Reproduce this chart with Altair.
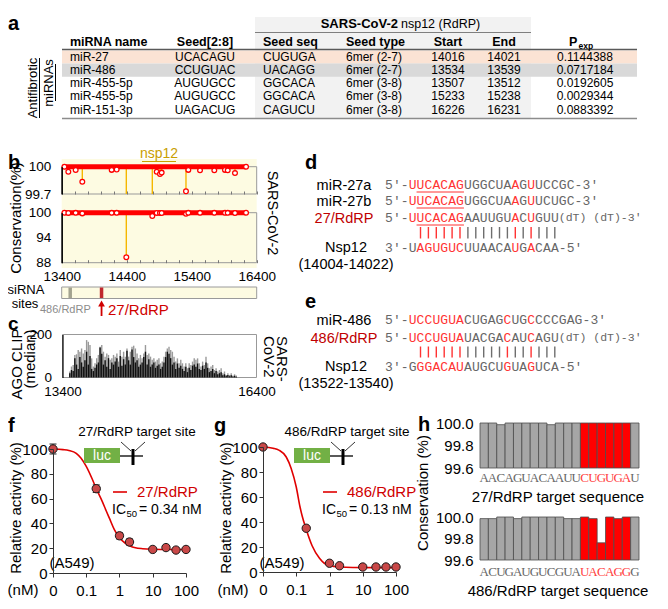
import altair as alt
import pandas as pd

# ---------------- data ----------------
# panel a (table)
mirna_name = ["miR-27", "miR-486", "miR-455-5p", "miR-455-5p", "miR-151-3p"]
seed_2_8 = ["UCACAGU", "CCUGUAC", "AUGUGCC", "AUGUGCC", "UAGACUG"]
seed_seq = ["CUGUGA", "UACAGG", "GGCACA", "GGCACA", "CAGUCU"]
seed_type = ["6mer (2-7)", "6mer (2-7)", "6mer (3-8)", "6mer (3-8)", "6mer (3-8)"]
site_start = ["14016", "13534", "13507", "15233", "16226"]
site_end = ["14021", "13539", "13512", "15238", "16231"]
p_exp = ["0.1144388", "0.0717184", "0.0192605", "0.0029344", "0.0883392"]

# panel b (conservation along nsp12)
cons_pos = [13442, 13502, 13615, 13717, 14169, 14246, 14394, 14794, 14862, 14912,
            14938, 15312, 15348, 15528, 15748, 15912, 15954, 16066, 16236]
cons_val = [100, 99.945, 99.964, 99.835, 99.965, 99.97, 89.3, 99.2, 99.945, 99.92,
            99.935, 99.73, 99.965, 99.96, 99.96, 99.965, 99.96, 99.93, 100]
cons_ticks = [13400, 13600, 13800, 14000, 14200, 14400, 14600, 14800, 15000, 15200,
              15400, 15600, 15800, 16000, 16200, 16400]
cons_labels = [13400, 14400, 15400, 16400]
top_ticks = [99.7, 100]
bot_ticks = [88, 94, 100]
sirna_486_mid = 13531
sirna_27_mid = 14013

# panel c (AGO CLIP)
clip_pos = [13513, 13539, 13565, 13591, 13617, 13643, 13669, 13695, 13721, 13747,
            13773, 13799, 13825, 13851, 13877, 13903, 13929, 13955, 13981, 14007,
            14033, 14059, 14085, 14111, 14137, 14163, 14189, 14215, 14241, 14267,
            14293, 14319, 14345, 14371, 14397, 14423, 14449, 14475, 14501, 14527,
            14553, 14579, 14605, 14631, 14657, 14683, 14709, 14735, 14761, 14787,
            14813, 14839, 14865, 14891, 14917, 14943, 14969, 14995, 15021, 15047,
            15073, 15099, 15125, 15151, 15177, 15203, 15229, 15255, 15281, 15307,
            15333, 15359, 15385, 15411, 15437, 15463, 15489, 15515, 15541, 15567,
            15593, 15619, 15645, 15671, 15697, 15723, 15749, 15775, 15801, 15827,
            15853, 15879, 15905, 15931, 15957, 15983, 16009, 16035, 16061, 16087]
clip_gray = [28, 51, 58, 105, 108, 128, 120, 135, 112, 128,
             174, 166, 151, 89, 51, 66, 89, 105, 143, 151,
             120, 97, 112, 105, 82, 89, 105, 97, 112, 74,
             128, 97, 120, 97, 135, 97, 120, 143, 148, 135,
             112, 89, 105, 89, 112, 151, 105, 112, 97, 82,
             89, 74, 82, 89, 66, 74, 97, 120, 135, 143,
             128, 120, 97, 74, 89, 66, 82, 66, 51, 66,
             43, 66, 58, 74, 89, 82, 89, 66, 51, 74,
             58, 97, 66, 43, 51, 58, 35, 43, 28, 35,
             43, 20, 28, 12, 20, 12, 20, 9, 15, 9]
clip_black = [20, 35, 30, 90, 60, 40, 95, 70, 50, 80,
              120, 60, 100, 40, 30, 45, 60, 70, 140, 110,
              60, 80, 50, 90, 40, 70, 60, 75, 90, 50,
              100, 55, 85, 60, 125, 80, 60, 130, 95, 70,
              80, 50, 60, 70, 95, 120, 60, 85, 50, 60,
              70, 45, 55, 60, 40, 50, 70, 95, 120, 110,
              90, 60, 70, 40, 65, 45, 55, 40, 30, 50,
              25, 45, 35, 55, 60, 50, 65, 40, 35, 55,
              40, 70, 45, 25, 30, 40, 20, 30, 15, 20,
              25, 10, 15, 8, 12, 6, 10, 5, 8, 4]
clip_ticks = [0, 200]
clip_labels = [13400, 16400]

# panels d / e (duplexes)
d_mir27a = "UUCACAGUGGCUAAGUUCCGC"
d_mir27b = "UUCACAGUGGCUAAGUUCUGC"
d_sirna = "UUCACAGAAUUGUACUGUU"
d_target = "UAGUGUCUUAACAUGACAA"
d_red = [1, 2, 3, 4, 5, 6, 7, 14, 16]
d_target_red = [2, 3, 4, 5, 6, 7, 14, 16]
e_mir486 = "UCCUGUACUGAGCUGCCCCGAG"
e_sirna = "UCCUGUAUACGACAUCAGU"
e_target = "GGGACAUAUGCUGUAGUCA"
e_red = [1, 2, 3, 4, 5, 6, 7, 13, 16]
e_target_red = [2, 3, 4, 5, 6, 7, 13, 16]
pair_nt = [2, 3, 4, 5, 6, 7, 8, 9, 10, 11, 12, 13, 14, 15, 16, 17, 18, 19]

# panels f / g (dose response); 0 nM is drawn at the axis origin 0.01
dose = [0.01, 0.2, 1, 2, 10, 25, 50, 100]
f_act = [100, 68, 30, 25, 19, 20.5, 18.5, 19]
f_err = [4, 3, 2.5, 2.5, 1, 1, 1, 1]
g_act = [100, 35, 7, 5, 4, 4, 4, 4]
g_err = [1, 1.5, 1, 1, 0.5, 0.5, 0.5, 0.5]
f_curve_dose = [0.01, 0.02, 0.03, 0.05, 0.07, 0.1, 0.15, 0.2, 0.3, 0.4, 0.5, 0.7, 1, 1.5, 2, 3, 5, 10, 30, 100]
f_curve_val = [100, 99.5, 98.8, 96.5, 92.5, 86, 76, 68, 58, 50, 44, 35, 28.5, 24, 22, 20.3, 19.6, 19.2, 19, 19]
g_curve_dose = [0.01, 0.02, 0.03, 0.05, 0.07, 0.1, 0.13, 0.15, 0.2, 0.3, 0.5, 0.7, 1, 2, 5, 100]
g_curve_val = [100, 99, 97.5, 92, 83, 68, 52, 45, 34, 21, 11, 7, 5.2, 4, 3.6, 3.5]
dose_ticks = [0.01, 0.1, 1, 10, 100]
act_ticks = [0, 20, 40, 60, 80, 100]

# panel h (target-site conservation)
h27_seq = "AACAGUACAAUUCUGUGAU"
h27_cons = [100, 100, 99.985, 100, 100, 100, 100, 100, 99.985, 100,
            100, 100, 100, 100, 100, 100, 100, 100, 100]
h486_seq = "ACUGAUGUCGUAUACAGGG"
h486_cons = [99.985, 99.985, 100, 100, 99.985, 100, 100, 100, 100, 100,
             99.985, 99.985, 100, 99.985, 99.76, 100, 99.985, 100, 100]
h_red = [13, 14, 15, 16, 17, 18]
h_ticks = [99.6, 99.8, 100.0]

# ---------------- layout helpers ----------------
W, H = 652, 593
def X(v): return round(v - 8, 2)
def Y(v): return round(v - 8, 2)

SANS, MONO, SERIF = "Liberation Sans", "Liberation Mono", "Liberation Serif"
ONE = pd.DataFrame({"k": [0]})
L = []

def txt(t, x, y, size=13, color="black", weight="normal", align="left", angle=None, font=SANS):
    kw = dict(text=t, fontSize=size, color=color, fontWeight=weight, align=align, font=font, baseline="middle")
    if angle is not None:
        kw["angle"] = angle
    L.append(alt.Chart(ONE).mark_text(**kw).encode(x=alt.value(X(x)), y=alt.value(Y(y))))

def seg(x1, y1, x2, y2, color="black", w=1.0):
    L.append(alt.Chart(ONE).mark_rule(color=color, strokeWidth=w).encode(
        x=alt.value(X(x1)), y=alt.value(Y(y1)), x2=alt.value(X(x2)), y2=alt.value(Y(y2))))

def box(x1, y1, x2, y2, fill):
    L.append(alt.Chart(ONE).mark_rect(color=fill).encode(
        x=alt.value(X(x1)), y=alt.value(Y(y1)), x2=alt.value(X(x2)), y2=alt.value(Y(y2))))

def lin(dom, r0, r1, **kw):
    return alt.Scale(domain=dom, range=[r0, r1], nice=False, zero=False, **kw)

NUM = "datum.value + ''"

def ax(orient, pos, values, labels=True, fmt=None, expr=None, tick=0, domain=False,
       size=13.5, pad=3, dcol="black", tcol="black", dw=1.0):
    if orient == "left":
        off = -X(pos)
    elif orient == "top":
        off = -Y(pos)
    else:
        off = Y(pos) - H
    kw = dict(orient=orient, offset=off, title=None, grid=False, zindex=1, values=values,
              labels=labels, domain=domain, ticks=tick > 0, labelFont=SANS, labelFontSize=size,
              labelColor="black", labelPadding=pad, domainColor=dcol, domainWidth=dw,
              tickColor=tcol, labelFlush=False, labelOverlap=False)
    if tick > 0:
        kw["tickSize"] = tick
    if fmt:
        kw["format"] = fmt
    if expr:
        kw["labelExpr"] = expr
    return alt.Axis(**kw)

def frame(xs, ys, xd, yd, xaxis=None, yaxis=None, stroke="#999999", fill=None, w=1.0):
    df = pd.DataFrame({"x0": [xd[0]], "x1": [xd[1]], "y0": [yd[0]], "y1": [yd[1]]})
    if fill:
        m = alt.Chart(df).mark_rect(fill=fill, stroke=stroke, strokeWidth=w)
    else:
        m = alt.Chart(df).mark_rect(fillOpacity=0, stroke=stroke, strokeWidth=w)
    L.append(m.encode(x=alt.X("x0:Q", scale=xs, axis=xaxis), x2="x1",
                      y=alt.Y("y0:Q", scale=ys, axis=yaxis), y2="y1"))

# ================= panel a =================
txt("a", 8, 24, size=20, weight="bold")
box(255, 17, 531, 118, "#f2f2f2")
tab = pd.DataFrame({"row": list(range(5)), "name": mirna_name, "seed": seed_2_8, "sseq": seed_seq,
                    "stype": seed_type, "start": site_start, "end": site_end, "p": p_exp})
yrow = lin([0, 4], Y(57), Y(109.5))
band = tab.iloc[:2].copy()
band["y0"] = band["row"] - 0.5
band["y1"] = band["row"] + 0.5
L.append(alt.Chart(band).mark_rect().encode(
    x=alt.value(X(62)), x2=alt.value(X(637)),
    y=alt.Y("y0:Q", scale=yrow, axis=None), y2="y1",
    color=alt.condition("datum.row == 0", alt.value("#fbe3d4"), alt.value("#d9d9d9"))))
seg(255, 32.5, 531, 32.5, "#7f7f7f", 1.2)
seg(62, 49.5, 637, 49.5, "#595959", 1.5)
seg(62, 118.5, 637, 118.5, "#8c8c8c", 1.5)
txt("SARS-CoV-2", 398, 24, size=13, weight="bold", align="right")
txt("nsp12 (RdRP)", 401, 24, size=12.5)
for t, x, a in [("miRNA name", 70, "left"), ("Seed[2:8]", 205, "center"), ("Seed seq", 263, "left"),
                ("Seed type", 346, "left"), ("Start", 448, "center"), ("End", 504, "center")]:
    txt(t, x, 42, size=12.5, weight="bold", align=a)
txt("P", 569, 42, size=12.5, weight="bold")
txt("exp", 578.5, 46, size=8.5, weight="bold")
for col, x, a in [("name", 70, "left"), ("seed", 205, "center"), ("sseq", 263, "left"),
                  ("stype", 346, "left"), ("start", 448, "center"), ("end", 504, "center"),
                  ("p", 585, "center")]:
    L.append(alt.Chart(tab).mark_text(font=SANS, fontSize=12, align=a, baseline="middle", color="black").encode(
        x=alt.value(X(x)), y=alt.Y("row:Q", scale=yrow, axis=None), text=f"{col}:N"))
txt("Antifibrotic", 33, 88, size=13, align="center", angle=270)
seg(39.5, 58, 39.5, 118, "black", 1)
txt("miRNAs", 49, 83, size=13, align="center", angle=270)
seg(55.5, 64, 55.5, 101, "black", 1)

# ================= panel b =================
txt("b", 8, 163, size=20, weight="bold")
xb = lin([13400, 16400], X(61.7), X(256.7))
ybt = lin([99.7, 100], Y(194), Y(166.7))
ybb = lin([88, 100], Y(262.7), Y(212.7))
L.append(alt.Chart(ONE).mark_rect(color="#fdfbe2").encode(
    x=alt.XDatum(13400, type="quantitative", scale=xb, axis=None), x2=alt.X2Datum(16400),
    y=alt.value(Y(159)), y2=alt.value(Y(268))))
NSP = "#c9a000"
txt("nsp12", 159, 154, size=14, color=NSP, align="center")
seg(142, 161.5, 176, 161.5, NSP, 1)
# frames + axes
frame(xb, ybt, [13400, 16400], [99.7, 100],
      xaxis=ax("top", 194, cons_ticks, labels=False, tick=3, tcol="#777777"),
      yaxis=ax("left", 61.7, top_ticks, expr=NUM, pad=11, domain=True, dw=1.5))
frame(xb, ybb, [13400, 16400], [88, 100],
      xaxis=ax("top", 262.7, cons_ticks, labels=False, tick=3, tcol="#777777"),
      yaxis=ax("left", 61.7, bot_ticks, expr=NUM, pad=11, domain=True, dw=1.5))
frame(xb, ybb, [13400, 16400], [88, 100], stroke="transparent",
      xaxis=ax("bottom", 262.7, cons_labels, expr=NUM, pad=7))
cons = pd.DataFrame({"p": cons_pos, "v": cons_val})
ends = pd.DataFrame({"p": [cons_pos[0], cons_pos[-1]], "v": [100, 100]})
for ys, clampy in [(ybt, lin([99.7, 100], Y(194), Y(166.7), clamp=True)), (ybb, ybb)]:
    L.append(alt.Chart(cons).mark_rule(color="#f5b700", strokeWidth=1.4).encode(
        x=alt.X("p:Q", scale=xb, axis=None), y=alt.Y("v:Q", scale=clampy, axis=None),
        y2=alt.Y2Datum(100)))
    L.append(alt.Chart(ends).mark_line(color="#ff0000", strokeWidth=5).encode(
        x=alt.X("p:Q", scale=xb, axis=None), y=alt.Y("v:Q", scale=ys, axis=None)))
L.append(alt.Chart(cons).transform_filter("datum.v >= 99.7").mark_circle(
    fill="white", stroke="#ff0000", strokeWidth=1.3, size=22, opacity=1).encode(
    x=alt.X("p:Q", scale=xb, axis=None), y=alt.Y("v:Q", scale=ybt, axis=None)))
L.append(alt.Chart(cons).mark_circle(
    fill="white", stroke="#ff0000", strokeWidth=1.3, size=22, opacity=1).encode(
    x=alt.X("p:Q", scale=xb, axis=None), y=alt.Y("v:Q", scale=ybb, axis=None)))
txt("Conservation(%)", 16, 218, size=15, align="center", angle=270)
txt("SARS-CoV-2", 272, 213, size=14.5, align="center", angle=90)
# siRNA sites strip
L.append(alt.Chart(ONE).mark_rect(color="#fdfbe2", stroke="#9a9a9a", strokeWidth=1).encode(
    x=alt.XDatum(13400, type="quantitative", scale=xb, axis=None), x2=alt.X2Datum(16400),
    y=alt.value(Y(287)), y2=alt.value(Y(298.5))))
L.append(alt.Chart(ONE).mark_rule(color="#a3a390", strokeWidth=3.5).encode(
    x=alt.XDatum(sirna_486_mid, type="quantitative", scale=xb, axis=None),
    y=alt.value(Y(287.5)), y2=alt.value(Y(298))))
L.append(alt.Chart(ONE).mark_rule(color="#c0282d", strokeWidth=3.5).encode(
    x=alt.XDatum(sirna_27_mid, type="quantitative", scale=xb, axis=None),
    y=alt.value(Y(287.5)), y2=alt.value(Y(298))))
L.append(alt.Chart(ONE).mark_rule(color="#d00000", strokeWidth=1.8).encode(
    x=alt.XDatum(sirna_27_mid, type="quantitative", scale=xb, axis=None),
    y=alt.value(Y(304)), y2=alt.value(Y(316))))
L.append(alt.Chart(ONE).mark_point(shape="triangle-up", filled=True, color="#d00000", size=45, opacity=1).encode(
    x=alt.XDatum(sirna_27_mid, type="quantitative", scale=xb, axis=None), y=alt.value(Y(303.5))))
txt("siRNA", 26, 290, size=13, align="center")
txt("sites", 25, 304, size=13, align="center")
txt("486/RdRP", 40, 310, size=11, color="#8c8c8c")
txt("27/RdRP", 108, 310, size=15, color="#d00000")

# ================= panel c =================
txt("c", 8, 324, size=19, weight="bold")
xc = lin([13400, 16400], X(62.5), X(256.5))
yc = lin([0, 200], Y(377.5), Y(334.5))
frame(xc, yc, [13400, 16400], [0, 200],
      xaxis=ax("bottom", 377.5, clip_labels, expr=NUM, pad=7),
      yaxis=ax("left", 62.5, clip_ticks, expr=NUM, pad=11, domain=True, dw=1.2))
clip = pd.DataFrame({"p": clip_pos, "g": clip_gray, "b": clip_black})
for col, c in [("g", "#9a9a9a"), ("b", "#111111")]:
    L.append(alt.Chart(clip).mark_rule(color=c, strokeWidth=1.4).encode(
        x=alt.X("p:Q", scale=xc, axis=None), y=alt.Y(f"{col}:Q", scale=yc, axis=None),
        y2=alt.Y2Datum(0)))
txt("AGO CLIP", 17, 364, size=15, align="center", angle=270)
txt("(median)", 30, 359, size=15, align="center", angle=270)
txt("SARS-", 282, 336, size=15, angle=90)
txt("CoV-2", 269, 336, size=15, angle=90)

# ================= panels d / e =================
SEQ_RED, SEQ_GRAY, LAB_RED = "#ff3333", "#666666", "#c00000"
XS = lin([0, 40], X(388.9), X(388.9 + 7.9 * 40))

def seq_line(prefix, nts, suffix, red, ypos, underline=None, tail=None):
    rows = [(i, ch, False) for i, ch in enumerate(prefix)]
    n0 = len(prefix)
    rows += [(n0 + k - 1, ch, k in red) for k, ch in enumerate(nts, start=1)]
    n1 = n0 + len(nts)
    rows += [(n1 + j, ch, False) for j, ch in enumerate(suffix)]
    df = pd.DataFrame(rows, columns=["i", "c", "r"])
    L.append(alt.Chart(df).mark_text(font=MONO, fontSize=13, baseline="middle", align="center").encode(
        x=alt.X("i:Q", scale=XS, axis=None), y=alt.value(Y(ypos)), text="c:N",
        color=alt.condition("datum.r", alt.value(SEQ_RED), alt.value(SEQ_GRAY))))
    if underline:
        L.append(alt.Chart(ONE).mark_rule(color=SEQ_RED, strokeWidth=1).encode(
            x=alt.XDatum(n0 + underline[0] - 1.5, type="quantitative", scale=XS, axis=None),
            x2=alt.X2Datum(n0 + underline[1] - 0.5), y=alt.value(Y(ypos + 7))))
    if tail:
        L.append(alt.Chart(ONE).mark_text(text=tail, font=MONO, fontSize=11.5, color=SEQ_GRAY,
                                          align="left", baseline="middle").encode(
            x=alt.XDatum(n1 - 0.5, type="quantitative", scale=XS, axis=None), y=alt.value(Y(ypos))))

def pair_bars(red, y1, y2):
    df = pd.DataFrame({"i": [k + 2 for k in pair_nt], "r": [k in red for k in pair_nt]})
    L.append(alt.Chart(df).mark_rule(strokeWidth=1.4).encode(
        x=alt.X("i:Q", scale=XS, axis=None), y=alt.value(Y(y1)), y2=alt.value(Y(y2)),
        color=alt.condition("datum.r", alt.value(SEQ_RED), alt.value("#6e6e6e"))))

txt("d", 305, 163, size=20, weight="bold")
txt("miR-27a", 344, 186, size=14.5, align="center")
txt("miR-27b", 344, 202, size=14.5, align="center")
txt("27/RdRP", 344, 219, size=14.5, align="center", color=LAB_RED)
txt("Nsp12", 346, 248, size=14.5, align="center")
txt("(14004-14022)", 346, 265, size=14.5, align="center")
seq_line("5′-", d_mir27a, "-3′", d_red, 185, underline=(2, 7))
seq_line("5′-", d_mir27b, "-3′", d_red, 201, underline=(2, 7))
seq_line("5′-", d_sirna, "", d_red, 218, underline=(2, 7), tail="(dT) (dT)-3′")
pair_bars(d_target_red, 227, 238.5)
seq_line("3′-", d_target, "-5′", d_target_red, 248)

txt("e", 305, 302, size=20, weight="bold")
txt("miR-486", 344, 321, size=14.5, align="center")
txt("486/RdRP", 344, 339, size=14.5, align="center", color=LAB_RED)
txt("Nsp12", 346, 367, size=14.5, align="center")
txt("(13522-13540)", 346, 384, size=14.5, align="center")
seq_line("5′-", e_mir486, "-3′", e_red, 320)
seq_line("5′-", e_sirna, "", e_red, 338, tail="(dT) (dT)-3′")
pair_bars(e_target_red, 346.5, 357.5)
seq_line("3′-", e_target, "-5′", e_target_red, 367)

# ================= panels f / g =================
DOSE_LAB = "datum.value < 0.05 ? '0' : datum.value + ''"

def dose_panel(letter, lx, x0, x1, yb, yt, act, err, cdose, cval, name, ic50, dx):
    txt(letter, lx, 426, size=20, weight="bold")
    xs = alt.Scale(type="log", domain=[0.01, 100], range=[X(x0), X(x1)], nice=False)
    ys = lin([0, 100], Y(yb), Y(yt))
    curve = pd.DataFrame({"d": cdose, "v": cval})
    L.append(alt.Chart(curve).mark_line(color="#e00000", strokeWidth=1.6, interpolate="monotone").encode(
        x=alt.X("d:Q", scale=xs, axis=ax("bottom", yb, dose_ticks, expr=DOSE_LAB,
                                         tick=4, pad=6, size=15, domain=True, dcol="#333333",
                                         tcol="#333333")),
        y=alt.Y("v:Q", scale=ys, axis=ax("left", x0, act_ticks, expr=NUM, tick=4, pad=2, size=15,
                                         domain=True, dcol="#333333", tcol="#333333"))))
    pts = pd.DataFrame({"d": dose, "v": act, "e": err})
    pts["lo"] = pts["v"] - pts["e"]
    pts["hi"] = pts["v"] + pts["e"]
    L.append(alt.Chart(pts).mark_rule(color="#1a1a1a", strokeWidth=1).encode(
        x=alt.X("d:Q", scale=xs, axis=None), y=alt.Y("lo:Q", scale=ys, axis=None), y2="hi"))
    for c in ["lo", "hi"]:
        L.append(alt.Chart(pts).mark_tick(orient="horizontal", size=7, thickness=1, color="#1a1a1a", opacity=1).encode(
            x=alt.X("d:Q", scale=xs, axis=None), y=alt.Y(f"{c}:Q", scale=ys, axis=None)))
    L.append(alt.Chart(pts).mark_point(shape="circle", filled=True, fill="#c94848", stroke="#1a1a1a",
                                       strokeWidth=1, size=70, opacity=1).encode(
        x=alt.X("d:Q", scale=xs, axis=None), y=alt.Y("v:Q", scale=ys, axis=None)))
    # schematic + legend
    txt(f"{name} target site", 137 + dx, 432, size=13.5, align="center")
    box(84 + dx, 448, 120 + dx, 463, "#72b045")
    txt("luc", 102 + dx, 455.5, size=14, color="white", align="center")
    seg(120 + dx, 456, 143 + dx, 456, "black", 1.3)
    box(131.5 + dx, 449, 134.5 + dx, 465, "black")
    seg(121 + dx, 442, 131 + dx, 451, "black", 0.8)
    seg(145 + dx, 442, 135 + dx, 451, "black", 0.8)
    seg(113 + dx, 492, 127 + dx, 492, "#e00000", 1.6)
    txt(name, 137 + dx, 492, size=15, color="#d00000")
    txt("IC", 112 + dx, 510, size=14)
    txt("50", 126.5 + dx, 514, size=9.5)
    txt(f"= {ic50} nM", 139 + dx, 510, size=14)
    txt("(A549)", 72 + dx, 563, size=15, align="center")
    txt("(nM)", 23 + dx, 590, size=15, align="center")
    txt("Relative activity (%)", 16 + dx, 508, size=15, align="center", angle=270)

dose_panel("f", 8, 53, 186, 573, 449, f_act, f_err, f_curve_dose, f_curve_val, "27/RdRP", "0.34", 0)
dose_panel("g", 214, 263, 396, 572, 447, g_act, g_err, g_curve_dose, g_curve_val, "486/RdRP", "0.13", 210)

# ================= panel h =================
txt("h", 418, 425, size=20, weight="bold")
xh = lin([0.5, 19.5], X(480), X(639))
for seq, vals, y_lo, y_hi, ylet, title in [(h27_seq, h27_cons, 468, 423, 478, "27/RdRP target sequence"),
                                            (h486_seq, h486_cons, 560, 517, 572, "486/RdRP target sequence")]:
    ys = lin([99.6, 100], Y(y_lo), Y(y_hi))
    idx = list(range(1, len(seq) + 1))
    df = pd.DataFrame({"i": idx, "c": list(seq), "v": vals, "r": [i in h_red for i in idx]})
    df["lo"] = df["i"] - 0.5
    df["hi"] = df["i"] + 0.5
    L.append(alt.Chart(df).mark_rect(stroke="#4d4d4d", strokeWidth=0.8).encode(
        x=alt.X("lo:Q", scale=xh, axis=None), x2="hi",
        y=alt.Y("v:Q", scale=ys, axis=ax("left", 480, h_ticks, fmt=".1f", pad=7, size=15)),
        y2=alt.Y2Datum(99.6),
        color=alt.condition("datum.r", alt.value("#ff0000"), alt.value("#a6a6a6"))))
    L.append(alt.Chart(df).mark_text(font=SERIF, fontSize=13, baseline="middle", align="center").encode(
        x=alt.X("i:Q", scale=xh, axis=None), y=alt.value(Y(ylet)), text="c:N",
        color=alt.condition("datum.r", alt.value("#ff4040"), alt.value("#666666"))))
    txt(title, 558, ylet + 19, size=15, align="center")
txt("Conservation (%)", 423, 493, size=15, align="center", angle=270)

chart = alt.layer(*L).properties(
    width=W, height=H, padding=0, autosize=alt.AutoSizeParams(type="none")
).resolve_scale(x="independent", y="independent").configure_view(strokeWidth=0)

chart.save("out.html", embed_options={"renderer": "svg", "actions": False})
